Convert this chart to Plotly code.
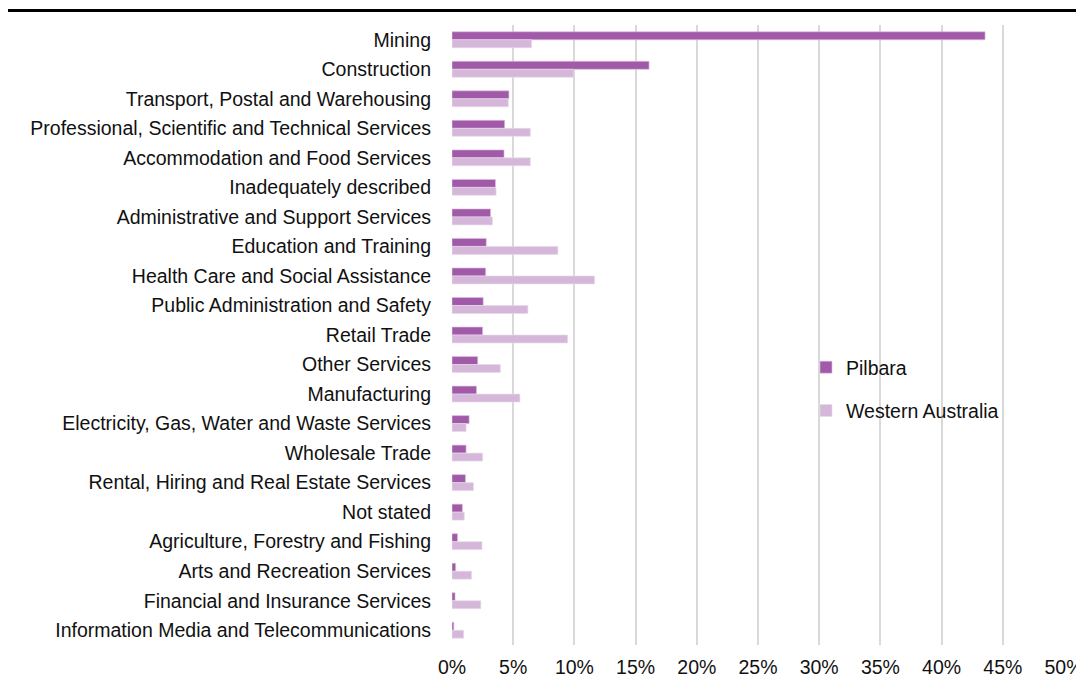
import plotly.graph_objects as go

categories = [
    "Mining", "Construction", "Transport, Postal and Warehousing",
    "Professional, Scientific and Technical Services", "Accommodation and Food Services",
    "Inadequately described", "Administrative and Support Services",
    "Education and Training", "Health Care and Social Assistance",
    "Public Administration and Safety", "Retail Trade", "Other Services",
    "Manufacturing", "Electricity, Gas, Water and Waste Services", "Wholesale Trade",
    "Rental, Hiring and Real Estate Services", "Not stated",
    "Agriculture, Forestry and Fishing", "Arts and Recreation Services",
    "Financial and Insurance Services", "Information Media and Telecommunications",
]
pilbara = [43.55, 16.1, 4.65, 4.3, 4.25, 3.55, 3.15, 2.8, 2.75, 2.55, 2.5, 2.1,
           2.0, 1.4, 1.15, 1.1, 0.85, 0.45, 0.3, 0.25, 0.15]
western_australia = [6.5, 9.95, 4.6, 6.4, 6.4, 3.6, 3.3, 8.65, 11.65, 6.2, 9.45, 3.95,
                     5.55, 1.15, 2.5, 1.75, 1.0, 2.45, 1.6, 2.35, 0.95]
x_ticks = [0, 5, 10, 15, 20, 25, 30, 35, 40, 45, 50]

C_PIL = "#A05AA8"
C_WA = "#D5B8D9"
FONT = "Liberation Sans, Arial, sans-serif"
FS = 19.5

fig = go.Figure()
fig.add_trace(go.Bar(y=categories, x=pilbara, name="Pilbara", orientation="h",
                     marker=dict(color=C_PIL, line=dict(color="rgba(220,190,225,0.8)", width=0.8)),
                     legendgroup="a"))
fig.add_trace(go.Bar(y=categories, x=western_australia, name="Western Australia", orientation="h",
                     marker=dict(color=C_WA, line=dict(color="rgba(235,215,238,0.8)", width=0.8)),
                     legendgroup="b"))

# page has an 8px body margin: figure sits at (8, 8)
OFF = 8
W, H = 1076, 676
L, R, T, B = 444, 20, 17, 39
pw, ph = W - L - R, H - T - B

def px(x):
    return (x - OFF - L) / pw

def py(y):
    return (H - B - (y - OFF)) / ph

shapes = [
    dict(type="line", xref="paper", yref="paper", x0=px(OFF), x1=px(1084), y0=py(10.5), y1=py(10.5),
         line=dict(color="black", width=3)),
]

fig.update_layout(
    width=W, height=H,
    margin=dict(l=L, r=R, t=T, b=B, autoexpand=False),
    barmode="group", bargap=0.46, bargroupgap=0,
    plot_bgcolor="white", paper_bgcolor="white",
    font=dict(family=FONT, size=FS, color="#111111"),
    showlegend=True,
    legend=dict(x=px(806), y=py(348), xanchor="left", yanchor="top",
                font=dict(size=FS, family=FONT), tracegroupgap=15,
                bgcolor="rgba(0,0,0,0)", itemwidth=30),
    shapes=shapes,
)
fig.update_xaxes(range=[0, 50], tickvals=x_ticks, ticktext=[f"{v}%" for v in x_ticks],
                 showgrid=True, gridcolor="#D9D9D9", gridwidth=2, zeroline=False,
                 showline=False, ticks="", ticklabelstandoff=8,
                 tickfont=dict(size=FS, family=FONT))
fig.update_yaxes(autorange="reversed", showgrid=False, zeroline=False, showline=False,
                 ticks="", ticklabelstandoff=20, tickfont=dict(size=FS, family=FONT))

fig.write_html("out.html")
